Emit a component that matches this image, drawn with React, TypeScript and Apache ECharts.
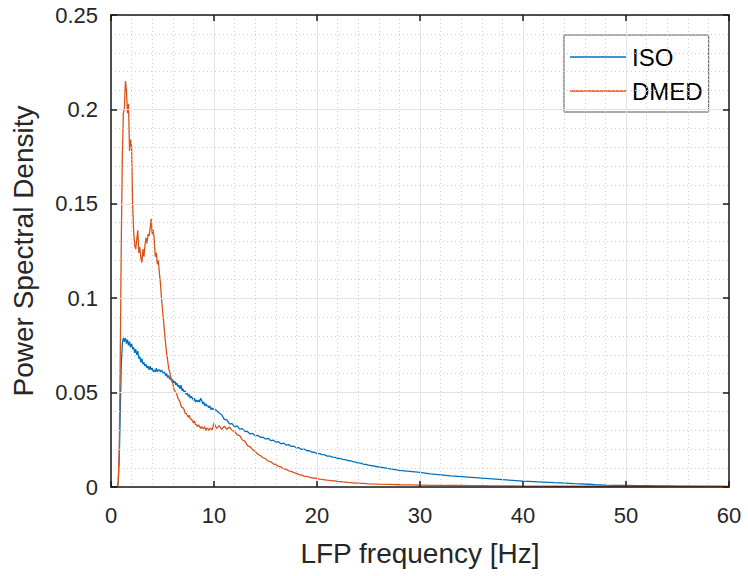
import React, { useEffect, useRef } from "react";
import * as echarts from "echarts";

// Sampling of the spectra: three segments (start frequency, step in Hz)
const SEG_A = { start: 0, step: 0.1 }; // 0 .. 10 Hz
const SEG_B = { start: 10.25, step: 0.25 }; // 10.25 .. 25 Hz
const SEG_C = { start: 26, step: 1 }; // 26 .. 60 Hz

const ISO_A = [
  0, 0, 0, 0, 0, 0, 0, 0.002, 0.015, 0.04,
  0.065, 0.076, 0.079, 0.077, 0.079, 0.076, 0.078, 0.075, 0.077, 0.074,
  0.076, 0.073, 0.074, 0.071, 0.073, 0.07, 0.072, 0.068, 0.069, 0.066,
  0.068, 0.065, 0.066, 0.064, 0.065, 0.063, 0.064, 0.062, 0.064, 0.062,
  0.063, 0.061, 0.062, 0.061, 0.063, 0.061, 0.062, 0.062, 0.061, 0.062,
  0.061, 0.06, 0.061, 0.059, 0.06, 0.058, 0.059, 0.057, 0.058, 0.056,
  0.057, 0.055, 0.056, 0.054, 0.055, 0.053, 0.054, 0.052, 0.054, 0.051,
  0.052, 0.05, 0.051, 0.049, 0.05, 0.048, 0.049, 0.047, 0.048, 0.047,
  0.046, 0.047, 0.045, 0.046, 0.045, 0.046, 0.045, 0.047, 0.046, 0.044,
  0.045, 0.043, 0.044, 0.043, 0.043, 0.042, 0.043, 0.041, 0.042, 0.041,
  0.0415,
];
const ISO_B = [
  0.0405, 0.0392, 0.0383, 0.0358, 0.0355, 0.0334, 0.0336, 0.0318, 0.0324, 0.0306,
  0.0309, 0.0295, 0.0294, 0.0281, 0.0284, 0.0271, 0.0274, 0.0263, 0.0264, 0.0254,
  0.0258, 0.0246, 0.0248, 0.0238, 0.024, 0.0229, 0.0233, 0.0222, 0.0225, 0.0215,
  0.0216, 0.0208, 0.0208, 0.0199, 0.0201, 0.0192, 0.0193, 0.0184, 0.0184, 0.0177,
  0.0177, 0.0171, 0.017, 0.0164, 0.0164, 0.0158, 0.0157, 0.0151, 0.0151, 0.0146,
  0.0145, 0.014, 0.0139, 0.0134, 0.0132, 0.0127, 0.0126, 0.0121, 0.012, 0.0116,
];
const ISO_C = [
  0.0106, 0.0097, 0.0088, 0.0083, 0.0078, 0.0069, 0.0064, 0.0059, 0.0055, 0.0051,
  0.0047, 0.0043, 0.0039, 0.0035, 0.0031, 0.0029, 0.0026, 0.0023, 0.0021, 0.0018,
  0.0016, 0.0012, 0.001, 0.0009, 0.0008, 0.0007, 0.0007, 0.0006, 0.0006, 0.0005,
  0.0005, 0.0004, 0.0004, 0.0004, 0.0003,
];

const DMED_A = [
  0, 0, 0, 0, 0, 0, 0, 0.002, 0.02, 0.07,
  0.13, 0.175, 0.198, 0.2, 0.215, 0.21, 0.198, 0.203, 0.178, 0.184,
  0.18, 0.15, 0.135, 0.128, 0.126, 0.131, 0.136, 0.124, 0.127, 0.121,
  0.119, 0.126, 0.122, 0.128, 0.132, 0.129, 0.134, 0.133, 0.137, 0.142,
  0.134, 0.136, 0.131, 0.122, 0.124, 0.118, 0.12, 0.113, 0.108, 0.1,
  0.094, 0.088, 0.082, 0.076, 0.071, 0.067, 0.063, 0.061, 0.058, 0.056,
  0.055, 0.052, 0.051, 0.05, 0.049, 0.047, 0.046, 0.045, 0.043, 0.042,
  0.042, 0.041, 0.039, 0.039, 0.038, 0.037, 0.038, 0.036, 0.036, 0.035,
  0.034, 0.035, 0.033, 0.033, 0.032, 0.033, 0.032, 0.031, 0.032, 0.031,
  0.031, 0.032, 0.03, 0.031, 0.031, 0.03, 0.031, 0.031, 0.03, 0.032,
  0.034,
];
const DMED_B = [
  0.031, 0.0325, 0.0305, 0.0322, 0.0306, 0.0318, 0.0298, 0.0295, 0.0276, 0.0272,
  0.0249, 0.0243, 0.0219, 0.0213, 0.0198, 0.0188, 0.0174, 0.0167, 0.0155, 0.015,
  0.0137, 0.0134, 0.0123, 0.0119, 0.0109, 0.0106, 0.0097, 0.0093, 0.0086, 0.0083,
  0.0076, 0.0072, 0.0066, 0.0063, 0.0058, 0.0056, 0.0052, 0.0049, 0.0047, 0.0045,
  0.0042, 0.004, 0.0038, 0.0036, 0.0035, 0.0033, 0.0032, 0.003, 0.0029, 0.0027,
  0.0026, 0.0024, 0.0023, 0.0022, 0.0021, 0.002, 0.0019, 0.0019, 0.0018, 0.0017,
];
const DMED_C = [
  0.0015, 0.0014, 0.0012, 0.0011, 0.001, 0.0009, 0.0009, 0.0008, 0.0008, 0.0007,
  0.0007, 0.0006, 0.0006, 0.0006, 0.0005, 0.0005, 0.0005, 0.0004, 0.0004, 0.0004,
  0.0004, 0.0004, 0.0004, 0.0003, 0.0003, 0.0003, 0.0003, 0.0003, 0.0003, 0.0003,
  0.0003, 0.0002, 0.0002, 0.0002, 0.0002,
];

const X_TICKS = [0, 10, 20, 30, 40, 50, 60];
const Y_TICK_LABELS: Record<string, string> = {
  "0": "0", "0.05": "0.05", "0.1": "0.1", "0.15": "0.15", "0.2": "0.2", "0.25": "0.25",
};

const SERIES_NAMES = ["ISO", "DMED"];
const COLORS = ["#0072BD", "#D95319"];

function pairs(seg: { start: number; step: number }, vals: number[]) {
  return vals.map((v, i) => [+(seg.start + i * seg.step).toFixed(3), v]);
}

const FONT = "'Liberation Sans', Arial, Helvetica, sans-serif";
const TXT = "#262626";
const AXIS_COLOR = "#1a1a1a";

export default function App() {
  const ref = useRef<HTMLDivElement>(null);
  useEffect(() => {
    if (!ref.current) return;
    const chart = echarts.init(ref.current, undefined, { renderer: "svg" });
    const isoData = [...pairs(SEG_A, ISO_A), ...pairs(SEG_B, ISO_B), ...pairs(SEG_C, ISO_C)];
    const dmedData = [...pairs(SEG_A, DMED_A), ...pairs(SEG_B, DMED_B), ...pairs(SEG_C, DMED_C)];

    const axisLine = { show: true, onZero: false, lineStyle: { color: AXIS_COLOR, width: 1.5, opacity: 1 } };
    const axisTick = { show: true, inside: true, length: 6, lineStyle: { color: AXIS_COLOR, width: 1.5 } };

    chart.setOption({
      animation: false,
      backgroundColor: "#ffffff",
      textStyle: { fontFamily: FONT },
      grid: { left: 111, right: 19, top: 15, bottom: 89, containLabel: false },
      legend: {
        data: SERIES_NAMES.map((n, i) => ({ name: n, icon: "rect", itemStyle: { color: COLORS[i] } })),
        orient: "vertical",
        left: 564,
        top: 35,
        itemWidth: 57,
        itemHeight: 1.5,
        itemGap: 8,
        padding: [9, 6, 8, 6],
        backgroundColor: "#ffffff",
        borderColor: "#555555",
        borderWidth: 1,
        textStyle: { fontSize: 24, color: "#000000", fontFamily: FONT, lineHeight: 26 },
      },
      xAxis: [
        {
          type: "value",
          min: 0,
          max: 60,
          interval: 10,
          position: "bottom",
          axisLine,
          axisTick,
          axisLabel: {
            fontSize: 22,
            color: TXT,
            margin: 17,
            fontFamily: FONT,
            formatter: (v: number) => (X_TICKS.includes(v) ? String(v) : ""),
          },
          splitLine: { show: true, lineStyle: { color: "#e3e3e3", width: 1 } },
          minorTick: { show: false, splitNumber: 5 },
          minorSplitLine: { show: true, lineStyle: { color: "#cfcfcf", type: [1, 3], width: 1 } },
          name: "LFP frequency [Hz]",
          nameLocation: "middle",
          nameGap: 52,
          nameTextStyle: { fontSize: 28, color: TXT, fontFamily: FONT },
          z: 10,
        },
        {
          type: "value",
          min: 0,
          max: 60,
          interval: 10,
          position: "top",
          axisLine,
          axisTick,
          axisLabel: { show: false },
          splitLine: { show: false },
          z: 10,
        },
      ],
      yAxis: [
        {
          type: "value",
          min: 0,
          max: 0.25,
          interval: 0.05,
          position: "left",
          axisLine,
          axisTick,
          axisLabel: {
            fontSize: 22,
            color: TXT,
            margin: 13,
            fontFamily: FONT,
            formatter: (v: number) => Y_TICK_LABELS[String(+v.toFixed(2))] ?? "",
          },
          splitLine: { show: true, lineStyle: { color: "#e3e3e3", width: 1 } },
          minorTick: { show: false, splitNumber: 5 },
          minorSplitLine: { show: true, lineStyle: { color: "#cfcfcf", type: [1, 3], width: 1 } },
          name: "Power Spectral Density",
          nameLocation: "middle",
          nameGap: 74,
          nameTextStyle: { fontSize: 28, color: TXT, fontFamily: FONT },
          z: 10,
        },
        {
          type: "value",
          min: 0,
          max: 0.25,
          interval: 0.05,
          position: "right",
          axisLine,
          axisTick,
          axisLabel: { show: false },
          splitLine: { show: false },
          z: 10,
        },
      ],
      series: [
        {
          name: SERIES_NAMES[0],
          type: "line",
          data: isoData,
          showSymbol: false,
          symbol: "none",
          color: COLORS[0],
          lineStyle: { color: COLORS[0], width: 1.3 },
          z: 3,
        },
        {
          name: SERIES_NAMES[1],
          type: "line",
          data: dmedData,
          showSymbol: false,
          symbol: "none",
          color: COLORS[1],
          lineStyle: { color: COLORS[1], width: 1.3 },
          z: 4,
        },
      ],
    });
    return () => chart.dispose();
  }, []);
  return <div ref={ref} style={{ width: 748, height: 576, position: "absolute", left: 0, top: 0 }} />;
}
